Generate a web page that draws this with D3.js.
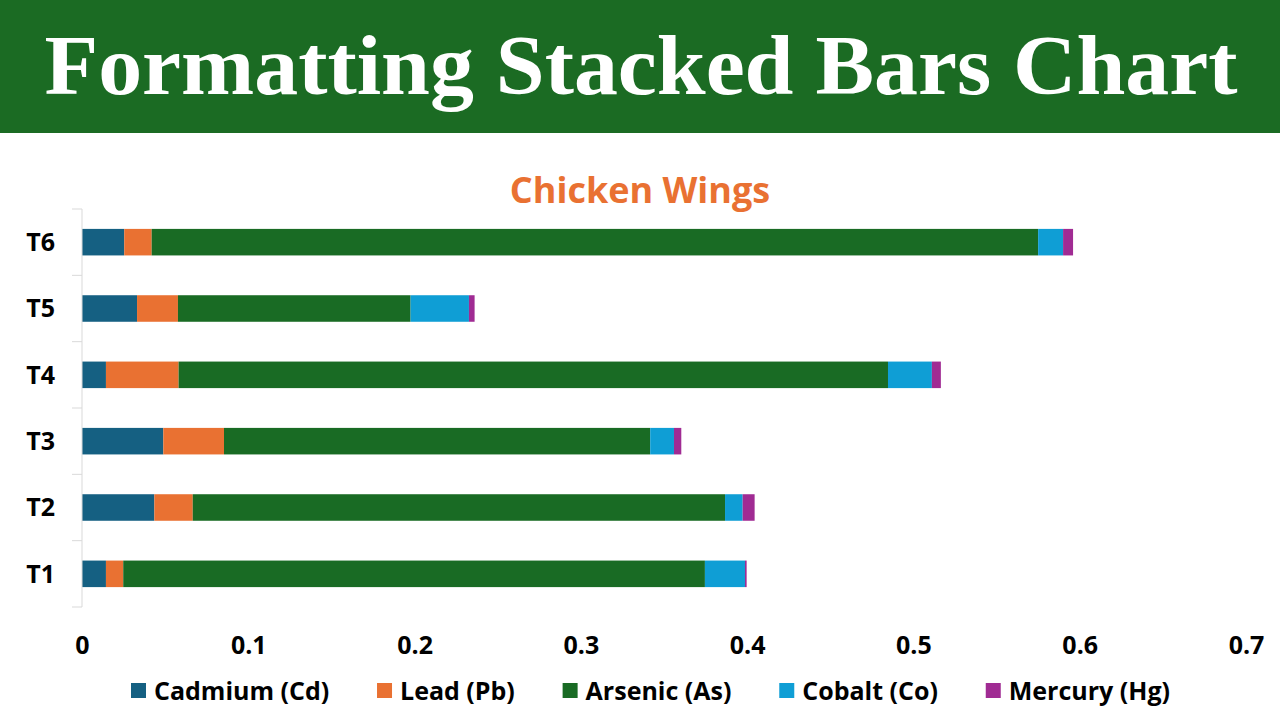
<!DOCTYPE html>
<html><head><meta charset="utf-8">
<script src="https://cdn.jsdelivr.net/npm/d3@7"></script>
<style>html,body{margin:0;padding:0;background:#fff;}svg{display:block;}</style>
</head><body>
<svg id="c" width="1280" height="720"></svg>
<script>
const categories = ["T1","T2","T3","T4","T5","T6"];
const seriesNames = ["Cadmium (Cd)","Lead (Pb)","Arsenic (As)","Cobalt (Co)","Mercury (Hg)"];
const cadmium = [0.0144,0.0435,0.0489,0.0144,0.0331,0.0254];
const lead    = [0.0104,0.0231,0.0365,0.0437,0.0246,0.0165];
const arsenic = [0.3498,0.3201,0.2563,0.4266,0.1399,0.5331];
const cobalt  = [0.0241,0.0106,0.0143,0.0264,0.0351,0.0150];
const mercury = [0.0010,0.0072,0.0044,0.0054,0.0034,0.0060];
const xTicks = [0,0.1,0.2,0.3,0.4,0.5,0.6,0.7];
const colors = ["#156082","#E97132","#196B24","#0F9ED5","#A02B93"];
const title = "Formatting Stacked Bars Chart";
const subtitle = "Chicken Wings";

const svg = d3.select("#c");
const font = "'Open Sans','Noto Sans',sans-serif";

// header
svg.append("rect").attr("x",0).attr("y",0).attr("width",1280).attr("height",133).attr("fill","#1B6B23");
svg.append("text").attr("x",641).attr("y",94).attr("text-anchor","middle")
  .attr("font-family","'Liberation Serif','Times New Roman',serif").attr("font-weight","bold")
  .attr("font-size",84).attr("fill","#fff")
  .attr("textLength",1193).attr("lengthAdjust","spacingAndGlyphs").text(title);

svg.append("text").attr("x",640).attr("y",203).attr("text-anchor","middle")
  .attr("font-family",font).attr("font-weight","bold").attr("font-size",36)
  .attr("fill","#E97132").text(subtitle);

const rows = categories.map((c,i)=>({cat:c, s0:cadmium[i], s1:lead[i], s2:arsenic[i], s3:cobalt[i], s4:mercury[i]}));
const stack = d3.stack().keys(["s0","s1","s2","s3","s4"])(rows);

const x = d3.scaleLinear().domain([0,0.7]).range([82,1246]);
const y = d3.scaleBand().domain(categories.slice().reverse()).range([209,607]).paddingInner(0.6).paddingOuter(0.3);

// bars
svg.append("g").selectAll("g").data(stack).join("g").attr("fill",(d,i)=>colors[i])
  .selectAll("rect").data(d=>d).join("rect")
  .attr("x",d=>x(d[0])).attr("width",d=>x(d[1])-x(d[0]))
  .attr("y",d=>y(d.data.cat)).attr("height",y.bandwidth());

// y axis line and category boundary ticks
const step = y.step();
const yg = svg.append("g");
yg.append("line").attr("x1",82).attr("x2",82).attr("y1",209).attr("y2",607).attr("stroke","#d9d9d9").attr("stroke-width",1);
const bounds = d3.range(categories.length+1).map(i=>209+i*step);
yg.selectAll("line.t").data(bounds).join("line").attr("class","t")
  .attr("x1",72).attr("x2",82).attr("y1",d=>d).attr("y2",d=>d).attr("stroke","#d9d9d9");
yg.selectAll("text").data(categories).join("text")
  .attr("x",55).attr("y",d=>y(d)+y.bandwidth()/2).attr("dy","0.35em").attr("text-anchor","end")
  .attr("font-family",font).attr("font-weight","bold").attr("font-size",25).attr("fill","#000").text(d=>d);

// x tick labels
const xAxis = d3.axisBottom(x).tickValues(xTicks).tickFormat(d=>d3.format("")(+d.toFixed(1))).tickSize(0).tickPadding(0);
const xg = svg.append("g").attr("transform","translate(0,637)").call(xAxis);
xg.select(".domain").remove();
xg.selectAll("text").attr("font-family",font).attr("font-weight","bold").attr("font-size",25).attr("fill","#000").attr("dy","0.35em").attr("y",8);

// legend
const lg = svg.append("g");
const items = lg.selectAll("g").data(seriesNames).join("g");
items.append("rect").attr("width",15).attr("height",15).attr("y",-7).attr("fill",(d,i)=>colors[i]);
items.append("text").attr("x",23).attr("y",1).attr("dy","0.35em").attr("font-family",font).attr("font-weight","bold")
  .attr("font-size",25).attr("fill","#000").text(d=>d);
const widths = [];
items.each(function(){ widths.push(23 + this.querySelector("text").getComputedTextLength()); });
const left = 131, right = 1170;
const gap = (right - left - d3.sum(widths)) / (widths.length - 1);
let pos = left; const offs = [];
widths.forEach(w=>{ offs.push(pos); pos += w + gap; });
items.attr("transform",(d,i)=>`translate(${offs[i]},690)`);
</script>
</body></html>
